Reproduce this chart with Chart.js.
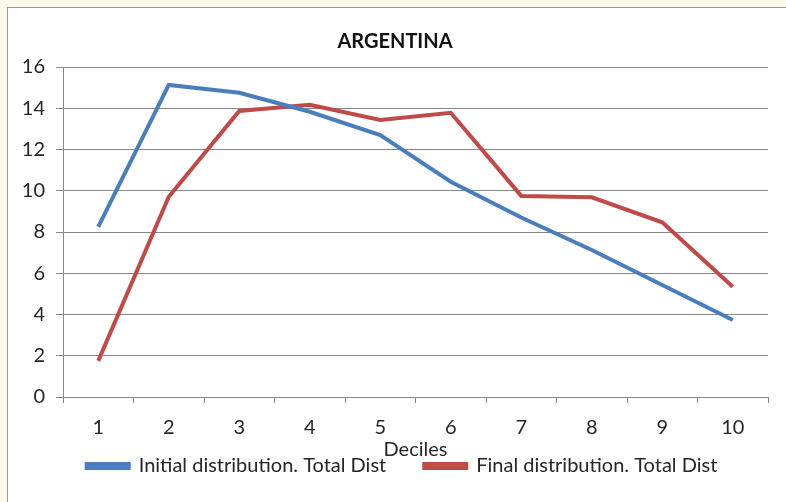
<!DOCTYPE html>
<html>
<head>
<meta charset="utf-8">
<script src="https://cdn.jsdelivr.net/npm/chart.js@4"></script>
<style>
  html, body { margin: 0; padding: 0; background: #fcf8ea; width: 786px; height: 502px; overflow: hidden; }
  #panel { position: absolute; left: 7px; top: 7px; width: 779px; height: 495px; background: #ffffff;
           border-left: 1px solid #9a9a9a; border-top: 1px solid #9a9a9a; box-sizing: border-box; }
  canvas { position: absolute; left: 0; top: 0; }
</style>
</head>
<body>
<div id="panel"><canvas id="c" width="778" height="494"></canvas></div>
<script>
const chartTitle = "ARGENTINA";
const xAxisTitle = "Deciles";
const deciles = ["1", "2", "3", "4", "5", "6", "7", "8", "9", "10"];
const initialDist = [8.25, 15.13, 14.75, 13.83, 12.7, 10.44, 8.7, 7.13, 5.43, 3.73];
const finalDist = [1.75, 9.71, 13.87, 14.17, 13.43, 13.78, 9.75, 9.68, 8.47, 5.35];
const seriesNames = ["Initial distribution. Total Dist", "Final distribution. Total Dist"];
const yMin = 0, yMax = 16, yStep = 2;

const FONT = "Lato, 'Open Sans', sans-serif";
const GRID = "#878787";
const TXT = "#262626";

// Fine placement of the legend / axis boxes after Chart.js has laid them out
const boxPlacement = {
  id: "boxPlacement",
  afterLayout(chart) {
    const x = chart.scales.x;
    x.bottom = 470;
    const lg = chart.legend;
    const h = lg.bottom - lg.top;
    lg.top = 410; lg.bottom = 410 + h;
    const t = chart.titleBlock;
    if (t) { t.left -= 7; t.right -= 7; }
  }
};

new Chart(document.getElementById("c"), {
  type: "line",
  data: {
    labels: deciles,
    datasets: [
      { label: seriesNames[0], data: initialDist, borderColor: "#4a7ebb", backgroundColor: "#4a7ebb",
        borderWidth: 4, pointRadius: 0, tension: 0 },
      { label: seriesNames[1], data: finalDist, borderColor: "#be4b48", backgroundColor: "#be4b48",
        borderWidth: 4, pointRadius: 0, tension: 0 }
    ]
  },
  options: {
    responsive: false,
    devicePixelRatio: 1,
    animation: false,
    layout: { padding: { left: 10, right: 0, top: 0, bottom: 0 } },
    plugins: {
      tooltip: { enabled: false },
      title: { display: true, text: chartTitle, color: "#111",
               font: { family: FONT, size: 20, weight: "bold" }, padding: { top: 22, bottom: 13 } },
      legend: {
        position: "bottom",
        labels: { color: TXT, font: { family: FONT, size: 20 }, boxWidth: 42, boxHeight: 4,
                  padding: 38 }
      }
    },
    scales: {
      x: {
        offset: true,
        grid: { offset: true, drawOnChartArea: false, drawTicks: true, tickLength: 6, color: GRID },
        border: { display: true, color: GRID },
        ticks: { color: TXT, font: { family: FONT, size: 20 }, padding: 13 },
        title: { display: true, text: xAxisTitle, color: TXT, font: { family: FONT, size: 20 },
                 padding: { top: 0, bottom: 16 } },
        afterFit: (s) => { s.height = 37; }
      },
      y: {
        min: yMin, max: yMax,
        grid: { color: GRID, tickLength: 7 },
        border: { display: true, color: GRID },
        ticks: { stepSize: yStep, color: TXT, font: { family: FONT, size: 20 }, padding: 11 },
        afterFit: (s) => { s.width = 45; }
      },
      yRightSpace: {
        position: "right",
        display: true,
        grid: { display: false },
        border: { display: false },
        ticks: { display: false },
        afterFit: (s) => { s.width = 18; }
      }
    }
  },
  plugins: [boxPlacement]
});
</script>
</body>
</html>
